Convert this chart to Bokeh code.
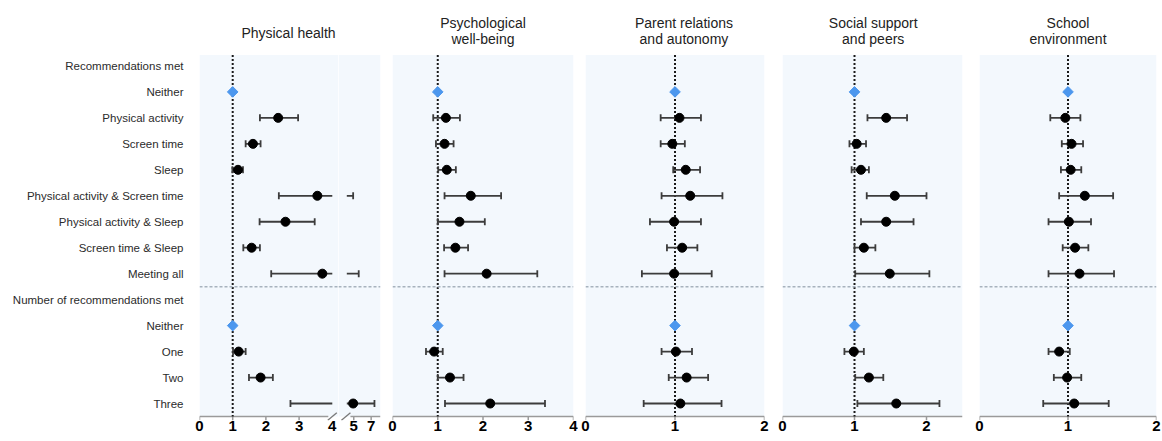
import math
from bokeh.plotting import figure
from bokeh.layouts import row
from bokeh.models import Range1d, FixedTicker, Span, BoxAnnotation
from bokeh.core.properties import value
from bokeh.embed import file_html
from bokeh.resources import INLINE

# ---------------- data ----------------
row_labels = ["Recommendations met", "Neither", "Physical activity", "Screen time", "Sleep",
              "Physical activity & Screen time", "Physical activity & Sleep",
              "Screen time & Sleep", "Meeting all", "Number of recommendations met",
              "Neither", "One", "Two", "Three"]

panel_titles = [["Physical health"],
                ["Psychological", "well-being"],
                ["Parent relations", "and autonomy"],
                ["Social support", "and peers"],
                ["School", "environment"]]

phys_est = [None, 1.0, 2.37, 1.61, 1.16, 3.55, 2.59, 1.57, 3.70, None, 1.0, 1.18, 1.84, 4.93]
phys_lo  = [None, None, 1.82, 1.39, 0.99, 2.39, 1.81, 1.32, 2.16, None, None, 1.01, 1.49, 2.74]
phys_hi  = [None, None, 2.97, 1.84, 1.31, 4.93, 3.47, 1.82, 5.57, None, None, 1.39, 2.21, 7.38]

psy_est = [None, 1.0, 1.18, 1.15, 1.20, 1.73, 1.48, 1.39, 2.08, None, 1.0, 0.92, 1.27, 2.16]
psy_lo  = [None, None, 0.90, 0.96, 1.01, 1.15, 1.00, 1.14, 1.15, None, None, 0.74, 1.00, 1.16]
psy_hi  = [None, None, 1.49, 1.35, 1.40, 2.40, 2.04, 1.67, 3.20, None, None, 1.11, 1.57, 3.37]

par_est = [None, 1.0, 1.05, 0.97, 1.12, 1.17, 0.99, 1.08, 0.99, None, 1.0, 1.01, 1.13, 1.06]
par_lo  = [None, None, 0.84, 0.84, 0.98, 0.85, 0.72, 0.91, 0.63, None, None, 0.85, 0.93, 0.65]
par_hi  = [None, None, 1.29, 1.11, 1.28, 1.53, 1.29, 1.25, 1.41, None, None, 1.19, 1.37, 1.52]

soc_est = [None, 1.0, 1.44, 1.03, 1.09, 1.56, 1.44, 1.13, 1.49, None, 1.0, 0.99, 1.20, 1.58]
soc_lo  = [None, None, 1.18, 0.93, 0.96, 1.17, 1.09, 1.00, 1.01, None, None, 0.86, 1.01, 1.04]
soc_hi  = [None, None, 1.73, 1.16, 1.20, 2.00, 1.82, 1.29, 2.04, None, None, 1.13, 1.40, 2.18]

sch_est = [None, 1.0, 0.97, 1.04, 1.03, 1.19, 1.01, 1.08, 1.13, None, 1.0, 0.90, 0.99, 1.07]
sch_lo  = [None, None, 0.80, 0.93, 0.92, 0.90, 0.78, 0.94, 0.78, None, None, 0.78, 0.84, 0.72]
sch_hi  = [None, None, 1.14, 1.17, 1.15, 1.51, 1.26, 1.23, 1.52, None, None, 1.02, 1.15, 1.46]

# x-axis tick labels
phys_ticks_a = [0, 1, 2, 3, 4]
phys_ticks_b = [5, 7]
psy_ticks = [0, 1, 2, 3, 4]
par_ticks = [0, 1, 2]
soc_ticks = [0, 1, 2]
sch_ticks = [0, 1, 2]

# ---------------- style / layout ----------------
FONT = "Liberation Sans"
BG = "#f3f8fd"
BAR = "#3c3c3c"
AXC = "#9a9a9a"
DIAMOND = "#4c97ee"
H = 441
BOTTOM = 21
PX_ROW = 25.97
Y_TOP = -2.52
AXIS_Y, BG_TOP = 13.5, -0.42
Y_FRAME_BOT = AXIS_Y + 4.0 / PX_ROW
TICK_LEN = 4.0 / PX_ROW
SEP = 8.5
BREAK_A, BREAK_B = 4.0, 4.2


def make_fig(width, bl, br, xr, ticks, axis_bounds, ylabels=False):
    p = figure(width=width, height=H, x_range=Range1d(*xr),
               y_range=Range1d(Y_FRAME_BOT, Y_TOP),
               output_backend="svg", toolbar_location=None,
               min_border_left=bl, min_border_right=br, min_border_top=0,
               min_border_bottom=BOTTOM,
               y_axis_location="left" if ylabels else None)
    p.outline_line_color = None
    p.grid.visible = False
    p.background_fill_color = "white"
    p.border_fill_color = "white"
    p.add_layout(BoxAnnotation(top=BG_TOP, bottom=AXIS_Y, fill_color=BG, fill_alpha=1.0,
                               line_color=None, level="underlay"))
    p.add_layout(Span(location=SEP, dimension="width", line_color="#a7b2bd",
                      line_dash="3 2", line_width=1.5))
    # axis line and ticks (drawn at the bottom edge of the plotting area)
    b0, b1 = axis_bounds
    p.segment(x0=[b0], y0=[AXIS_Y], x1=[b1], y1=[AXIS_Y], line_color=AXC, line_width=1.5)
    tk = [t for t in ticks if b0 <= t <= b1]
    p.segment(x0=tk, y0=[AXIS_Y] * len(tk), x1=tk, y1=[AXIS_Y + TICK_LEN] * len(tk),
              line_color=AXC, line_width=1.5)
    ax = p.xaxis[0]
    ax.ticker = FixedTicker(ticks=ticks)
    ax.axis_line_color = None
    ax.major_tick_line_color = None
    ax.major_tick_out = 0
    ax.major_tick_in = 0
    ax.minor_tick_line_color = None
    ax.minor_tick_out = 0
    ax.minor_tick_in = 0
    ax.major_label_standoff = 0
    ax.major_label_text_font = FONT
    ax.major_label_text_font_size = "15px"
    ax.major_label_text_font_style = "bold"
    ax.major_label_text_color = "black"
    if ylabels:
        ya = p.yaxis[0]
        ya.ticker = FixedTicker(ticks=list(range(len(row_labels))))
        ya.major_label_overrides = {i: lab for i, lab in enumerate(row_labels)}
        ya.axis_line_color = None
        ya.major_tick_line_color = None
        ya.minor_tick_line_color = None
        ya.major_tick_out = 0
        ya.minor_tick_out = 0
        ya.major_label_standoff = 16
        ya.major_label_text_font = FONT
        ya.major_label_text_font_size = "11.5px"
        ya.major_label_text_color = "#2b2b2b"
    return p


def add_title(p, lines, tx):
    ys = [-1.28] if len(lines) == 1 else [-1.65, -1.02]
    p.text(x=[tx] * len(lines), y=ys, text=lines, text_font=value(FONT),
           text_font_size="14px", text_align="center", text_baseline="middle",
           text_color="#222222")


def add_refline(p):
    p.segment(x0=[1], y0=[BG_TOP], x1=[1], y1=[AXIS_Y], line_color="#1a1a1a",
              line_width=2, line_dash="2 2")


def add_break(p, x, px_per_unit):
    dx = 4.5 / px_per_unit
    dy = 3.8 / PX_ROW
    p.segment(x0=[x - dx], y0=[AXIS_Y + dy], x1=[x + dx], y1=[AXIS_Y - dy],
              line_color="#7a7a7a", line_width=1.3)


def draw(p, est, lo, hi, seg_lo=-math.inf, seg_hi=math.inf):
    lx0, lx1, ly, cx, cy, px, py, dx, dy = [], [], [], [], [], [], [], [], []
    for i, e in enumerate(est):
        if e is None:
            continue
        if lo[i] is None:
            if seg_lo <= e <= seg_hi:
                dx.append(e); dy.append(i)
            continue
        a, b = max(lo[i], seg_lo), min(hi[i], seg_hi)
        if a < b:
            lx0.append(a); lx1.append(b); ly.append(i)
        for v in (lo[i], hi[i]):
            if seg_lo <= v <= seg_hi:
                cx.append(v); cy.append(i)
        if seg_lo <= e <= seg_hi:
            px.append(e); py.append(i)
    p.segment(x0=lx0, y0=ly, x1=lx1, y1=ly, line_color=BAR, line_width=1.8)
    p.scatter(x=cx, y=cy, marker="dash", angle=math.pi / 2, size=7,
              line_color=BAR, line_width=1.8)
    p.scatter(x=px, y=py, marker="circle", size=9, fill_color="black", line_color="black")
    p.scatter(x=dx, y=dy, marker="square", angle=math.pi / 4, size=7.5,
              fill_color=DIAMOND, line_color=DIAMOND)


# Panel 1 (broken axis): two adjoining segments
f1a = make_fig(338, 199, 0, (0, 4.187), phys_ticks_a, (0, 3.88), ylabels=True)
add_refline(f1a)
draw(f1a, phys_est, phys_lo, phys_hi, seg_hi=BREAK_A)
add_title(f1a, panel_titles[0], 2.68)
add_break(f1a, 4.0, 33.2)

f1b = make_fig(48, 0, 6, (3.246, 8.074), phys_ticks_b, (4.62, 8.074))
draw(f1b, phys_est, phys_lo, phys_hi, seg_lo=BREAK_B)
add_break(f1b, 4.1, 8.7)

f2 = make_fig(192, 6, 5, (0, 4), psy_ticks, (0, 4))
add_refline(f2)
draw(f2, psy_est, psy_lo, psy_hi)
add_title(f2, panel_titles[1], 2.0)

f3 = make_fig(197, 7, 11, (0, 2), par_ticks, (0, 2))
add_refline(f3)
draw(f3, par_est, par_lo, par_hi)
add_title(f3, panel_titles[2], 1.1)

f4 = make_fig(195, 7, 8, (0, 2.5), soc_ticks, (0, 2.5))
add_refline(f4)
draw(f4, soc_est, soc_lo, soc_hi)
add_title(f4, panel_titles[3], 1.26)

f5 = make_fig(192, 9, 6, (0, 2), sch_ticks, (0, 2))
add_refline(f5)
draw(f5, sch_est, sch_lo, sch_hi)
add_title(f5, panel_titles[4], 1.0)

layout = row(f1a, f1b, f2, f3, f4, f5, spacing=0)

with open("out.html", "w") as fh:
    fh.write(file_html(layout, INLINE))
